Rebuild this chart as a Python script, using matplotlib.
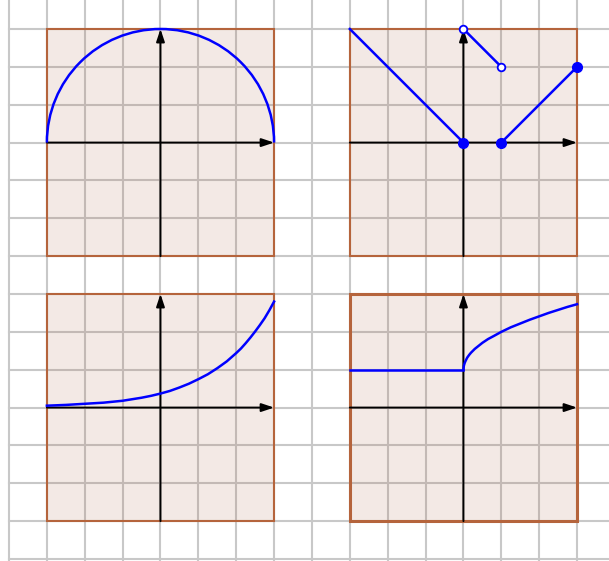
import matplotlib.pyplot as plt
from matplotlib.patches import Rectangle, Arc

# grid cell = 1 unit, panels are 6x6 cells
grid_x = list(range(0, 16))
grid_y = list(range(0, 15))

# (left, bottom) of each panel, edge width
panels = [(1, 8, 1.5), (9, 8, 1.5), (1, 1, 1.5), (9, 1, 2.2)]

# panel 1: half circle
circle_center = (4, 11)
circle_radius = 3

# panel 2: piecewise lines
seg_a_x = [9, 12]
seg_a_y = [14, 11]
seg_b_x = [12, 13]
seg_b_y = [14, 13]
seg_c_x = [13, 15]
seg_c_y = [11, 13]
filled_x = [12, 13, 15]
filled_y = [11, 11, 13]
open_x = [12, 13]
open_y = [14, 13]

# panel 3: growth curve
exp_x = [1, 1.5, 2, 2.5, 3, 3.5, 3.75, 4, 4.25, 4.5, 4.75, 5, 5.25, 5.5,
         5.75, 6, 6.125, 6.25, 6.375, 6.5, 6.625, 6.75, 6.875, 7]
exp_y = [4.05, 4.07, 4.10, 4.13, 4.18, 4.26, 4.31, 4.37, 4.44, 4.53, 4.63,
         4.75, 4.88, 5.04, 5.22, 5.44, 5.56, 5.70, 5.85, 6.01, 6.18, 6.36,
         6.57, 6.80]

# panel 4: flat part then root-like curve
flat_x = [9, 12]
flat_y = [5, 5]
root_x = [12, 12.01, 12.03, 12.05, 12.1, 12.15, 12.2, 12.3, 12.4, 12.5, 12.65,
          12.8, 13, 13.25, 13.5, 13.75, 14, 14.25, 14.5, 14.75, 15]
root_y = [5.0, 5.1, 5.17, 5.22, 5.32, 5.39, 5.45, 5.55, 5.63, 5.71, 5.81,
          5.89, 6.0, 6.12, 6.22, 6.32, 6.41, 6.5, 6.58, 6.66, 6.73]

blue = "#0000ff"
edge = "#b5643c"

fig = plt.figure(figsize=(6.09, 5.61), dpi=100)
ax = fig.add_axes([0, 0, 1, 1])
ax.set_xlim(-9 / 37.87, 600 / 37.87)
ax.set_ylim(-2 / 37.857, 559 / 37.857)
ax.axis("off")

# background grid
for gx in grid_x:
    ax.plot([gx, gx], [-1, 16], color="#c8c8c8", lw=1.5, zorder=1)
for gy in grid_y:
    ax.plot([0, 17], [gy, gy], color="#c8c8c8", lw=1.5, zorder=1)

# panels + axes
for (px, py, ew) in panels:
    ax.add_patch(Rectangle((px, py), 6, 6, facecolor="#a0522d", alpha=0.12,
                           edgecolor="none", zorder=2))
    ax.add_patch(Rectangle((px, py), 6, 6, facecolor="none", edgecolor=edge,
                           lw=ew, zorder=3))
    ax.annotate("", xy=(px + 6, py + 3), xytext=(px, py + 3),
                arrowprops=dict(arrowstyle="-|>,head_length=0.75,head_width=0.25",
                                color="black", lw=1.4, shrinkA=0, shrinkB=0,
                                mutation_scale=10), zorder=4)
    ax.annotate("", xy=(px + 3, py + 6), xytext=(px + 3, py),
                arrowprops=dict(arrowstyle="-|>,head_length=0.75,head_width=0.25",
                                color="black", lw=1.4, shrinkA=0, shrinkB=0,
                                mutation_scale=10), zorder=4)

# panel 1
ax.add_patch(Arc(circle_center, 2 * circle_radius, 2 * circle_radius,
                 theta1=0, theta2=180, color=blue, lw=1.8, zorder=5))

# panel 2
ax.plot(seg_a_x, seg_a_y, color=blue, lw=1.8, zorder=5)
ax.plot(seg_b_x, seg_b_y, color=blue, lw=1.8, zorder=5)
ax.plot(seg_c_x, seg_c_y, color=blue, lw=1.8, zorder=5)
ax.plot(filled_x, filled_y, "o", color=blue, markersize=7, zorder=6)
ax.plot(open_x, open_y, "o", markerfacecolor="white", markeredgecolor=blue,
        markersize=5.5, markeredgewidth=1.3, zorder=6)

# panel 3
ax.plot(exp_x, exp_y, color=blue, lw=1.8, zorder=5)

# panel 4
ax.plot(flat_x, flat_y, color=blue, lw=1.8, zorder=5)
ax.plot(root_x, root_y, color=blue, lw=1.8, zorder=5)

plt.savefig("out.png", dpi=100)
